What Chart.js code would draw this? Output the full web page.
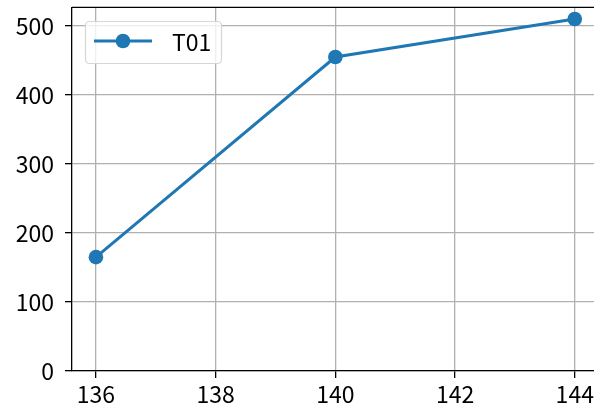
<!DOCTYPE html>
<html>
<head>
<meta charset="utf-8">
<script src="https://cdn.jsdelivr.net/npm/chart.js@4"></script>
<style>
  html, body { margin: 0; padding: 0; background: #fff; overflow: hidden; }
  #wrap { width: 606px; height: 414px; }
</style>
</head>
<body>
<div id="wrap"><canvas id="chart" width="606" height="414"></canvas></div>
<script>
const seriesName = 'T01';
const xValues = [136, 140, 144];
const yValues = [165, 455, 510];
const xTicks = [136, 138, 140, 142, 144];
const yTicks = [0, 100, 200, 300, 400, 500];

const blue = '#1f77b4';
const fontFamily = '"Noto Sans CJK JP", "DejaVu Sans", sans-serif';
const font = { family: fontFamily, size: 23 };

// top/right spines and the legend box
const frame = {
  id: 'frame',
  afterDraw(chart) {
    const { ctx, chartArea: a } = chart;
    ctx.save();
    ctx.strokeStyle = '#000';
    ctx.lineWidth = 1.3;
    ctx.beginPath();
    ctx.moveTo(a.left, a.top);
    ctx.lineTo(a.right, a.top);
    ctx.lineTo(a.right, a.bottom);
    ctx.stroke();

    // legend
    ctx.fillStyle = 'rgba(255,255,255,0.8)';
    ctx.strokeStyle = '#d6d6d6';
    ctx.lineWidth = 1.2;
    ctx.beginPath();
    ctx.roundRect(85.5, 21.5, 136, 42, 4);
    ctx.fill();
    ctx.stroke();
    ctx.strokeStyle = blue;
    ctx.lineWidth = 3;
    ctx.beginPath();
    ctx.moveTo(94, 41);
    ctx.lineTo(152, 41);
    ctx.stroke();
    ctx.fillStyle = blue;
    ctx.beginPath();
    ctx.arc(123, 41, 7.3, 0, Math.PI * 2);
    ctx.fill();
    ctx.fillStyle = '#000';
    ctx.font = '23px ' + fontFamily;
    ctx.textBaseline = 'middle';
    ctx.fillText(seriesName, 172, 42);
    ctx.restore();
  }
};

new Chart(document.getElementById('chart'), {
  type: 'line',
  data: {
    datasets: [{
      label: seriesName,
      data: xValues.map((x, i) => ({ x, y: yValues[i] })),
      borderColor: blue,
      backgroundColor: blue,
      borderWidth: 3,
      pointRadius: 7.3,
      pointHoverRadius: 7.3,
      pointBorderWidth: 0,
      tension: 0
    }]
  },
  options: {
    responsive: false,
    animation: false,
    layout: { padding: { top: 7, right: 3, left: 0, bottom: 0 } },
    plugins: { legend: { display: false }, tooltip: { enabled: false } },
    scales: {
      x: {
        type: 'linear',
        min: 135.6,
        max: 144.4,
        afterBuildTicks: s => { s.ticks = xTicks.map(v => ({ value: v })); },
        afterFit: s => { s.height = 43; s.paddingLeft = 0; s.paddingRight = 0; },
        grid: { color: '#b0b0b0', lineWidth: 1.3, tickLength: 7, tickColor: '#000' },
        border: { color: '#000', width: 1.3 },
        ticks: { color: '#000', font, padding: 2, maxRotation: 0 }
      },
      y: {
        type: 'linear',
        min: 0,
        max: 527,
        afterBuildTicks: s => { s.ticks = yTicks.map(v => ({ value: v })); },
        afterFit: s => { s.width = 72; s.paddingTop = 0; s.paddingBottom = 0; },
        grid: { color: '#b0b0b0', lineWidth: 1.3, tickLength: 7, tickColor: '#000' },
        border: { color: '#000', width: 1.3 },
        ticks: { color: '#000', font, padding: 11 }
      }
    }
  },
  plugins: [frame]
});
</script>
</body>
</html>
